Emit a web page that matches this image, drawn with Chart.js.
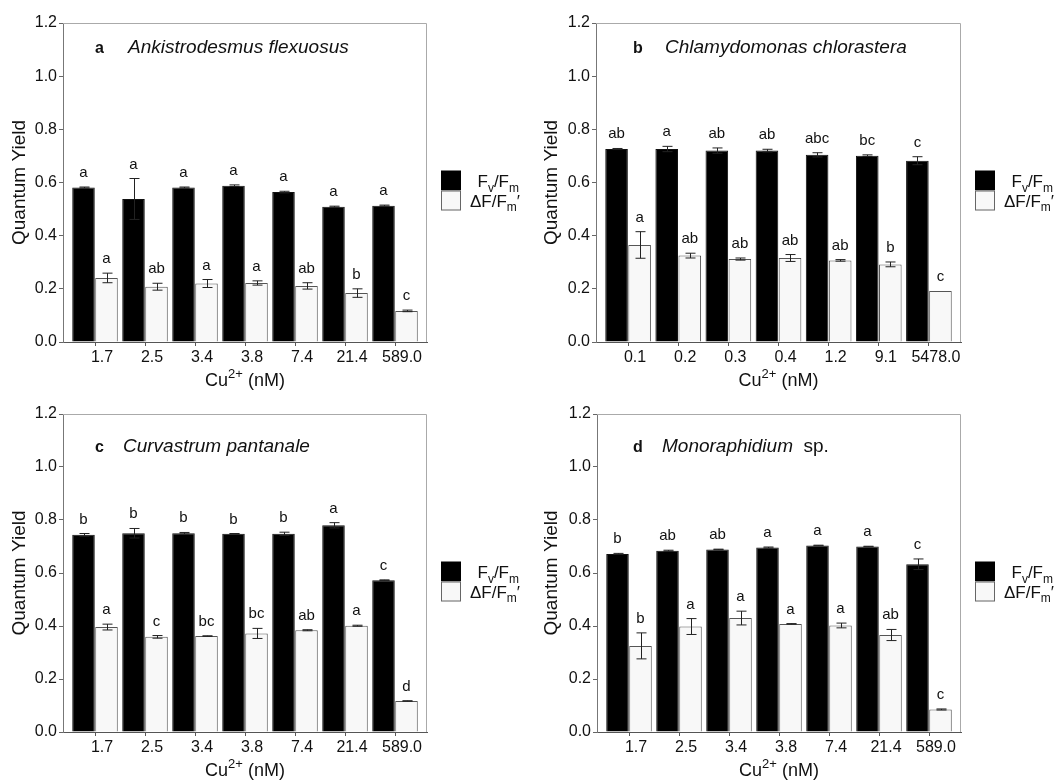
<!DOCTYPE html>
<html>
<head>
<meta charset="utf-8">
<title>Quantum yield under Cu2+ exposure</title>
<script src="https://cdn.jsdelivr.net/npm/chart.js@4.4.1/dist/chart.umd.min.js"></script>
<style>
  body { margin: 0; background: #fff; }
  #wrap { position: relative; width: 1056px; height: 782px; }
  canvas { position: absolute; }
</style>
</head>
<body>
<div id="wrap">
  <canvas id="chartA" width="528" height="391" style="left:0;top:0"></canvas>
  <canvas id="chartB" width="528" height="391" style="left:528px;top:0"></canvas>
  <canvas id="chartC" width="528" height="391" style="left:0;top:391px"></canvas>
  <canvas id="chartD" width="528" height="391" style="left:528px;top:391px"></canvas>
</div>
<script>
// Cu2+ concentrations (nM)
const cuLevels = ['1.7', '2.5', '3.4', '3.8', '7.4', '21.4', '589.0'];
const cuLevelsB = ['0.1', '0.2', '0.3', '0.4', '1.2', '9.1', '5478.0'];
const yTicks = [0, 0.2, 0.4, 0.6, 0.8, 1.0, 1.2];

// a - Ankistrodesmus flexuosus
const fvA = [0.581, 0.538, 0.581, 0.588, 0.564, 0.509, 0.513];
const fvErrA = [0.002, 0.077, 0.002, 0.003, 0.003, 0.002, 0.002];
const fvSigA = ['a', 'a', 'a', 'a', 'a', 'a', 'a'];
const dfA = [0.241, 0.208, 0.220, 0.222, 0.211, 0.184, 0.117];
const dfErrA = [0.018, 0.013, 0.015, 0.008, 0.012, 0.016, 0.003];
const dfSigA = ['a', 'ab', 'a', 'a', 'ab', 'b', 'c'];

// b - Chlamydomonas chlorastera
const fvB = [0.726, 0.726, 0.720, 0.720, 0.704, 0.701, 0.682];
const fvErrB = [0.002, 0.010, 0.010, 0.005, 0.008, 0.003, 0.015];
const fvSigB = ['ab', 'a', 'ab', 'ab', 'abc', 'bc', 'c'];
const dfB = [0.365, 0.325, 0.312, 0.316, 0.307, 0.292, 0.192];
const dfErrB = [0.050, 0.009, 0.004, 0.013, 0.003, 0.009, 0];
const dfSigB = ['a', 'ab', 'ab', 'ab', 'ab', 'b', 'c'];

// c - Curvastrum pantanale
const fvC = [0.744, 0.750, 0.750, 0.748, 0.748, 0.780, 0.573];
const fvErrC = [0.005, 0.018, 0.003, 0.001, 0.006, 0.010, 0.001];
const fvSigC = ['b', 'b', 'b', 'b', 'b', 'a', 'c'];
const dfC = [0.396, 0.359, 0.362, 0.372, 0.384, 0.401, 0.117];
const dfErrC = [0.011, 0.005, 0.001, 0.019, 0.002, 0.002, 0.001];
const dfSigC = ['a', 'c', 'bc', 'bc', 'ab', 'a', 'd'];

// d - Monoraphidium sp.
const fvD = [0.672, 0.684, 0.689, 0.696, 0.704, 0.700, 0.633];
const fvErrD = [0.002, 0.002, 0.001, 0.002, 0.001, 0.001, 0.020];
const fvSigD = ['b', 'ab', 'ab', 'a', 'a', 'a', 'c'];
const dfD = [0.325, 0.398, 0.430, 0.408, 0.402, 0.366, 0.085];
const dfErrD = [0.049, 0.030, 0.026, 0.001, 0.009, 0.021, 0.002];
const dfSigD = ['b', 'a', 'a', 'a', 'a', 'ab', 'c'];

const FONT = "'Liberation Sans', Arial, sans-serif";
Chart.defaults.font.family = FONT;
Chart.defaults.color = '#111';

const CANVAS_H = 391, CANVAS_W = 528;

// text with sub/superscript pieces
function drawRich(ctx, parts, x, y, size, align) {
  const small = Math.round(size * 0.7);
  const fontOf = p => `${p.style || ''} ${(p.sub || p.sup) ? small : size}px ${FONT}`;
  let w = 0;
  parts.forEach(p => { ctx.font = fontOf(p); w += ctx.measureText(p.t).width; });
  let cx = align === 'right' ? x - w : align === 'center' ? x - w / 2 : x;
  ctx.textAlign = 'left';
  ctx.textBaseline = 'alphabetic';
  parts.forEach(p => {
    ctx.font = fontOf(p);
    const dy = p.sub ? size * 0.28 : p.sup ? -size * 0.42 : 0;
    ctx.fillText(p.t, cx, y + dy);
    cx += ctx.measureText(p.t).width;
  });
}

function decor(p) {
  return {
    id: 'decor',
    beforeDatasetsDraw(chart) {
      const { ctx, chartArea: a } = chart;
      ctx.save();
      ctx.strokeStyle = '#aaa';
      ctx.lineWidth = 1;
      ctx.beginPath();
      ctx.moveTo(a.left, a.top + 0.5);
      ctx.lineTo(a.right - 0.5, a.top + 0.5);
      ctx.lineTo(a.right - 0.5, a.bottom);
      ctx.stroke();
      ctx.restore();
    },
    afterDatasetsDraw(chart) {
      const { ctx } = chart;
      const ys = chart.scales.y;
      ctx.save();
      chart.data.datasets.forEach((ds, i) => {
        const meta = chart.getDatasetMeta(i);
        meta.data.forEach((bar, j) => {
          const v = ds.data[j].y, e = ds.err[j];
          const x = Math.round(bar.x) + 0.5;
          const yTop = ys.getPixelForValue(v + e);
          if (e > 0) {
            const yBot = ys.getPixelForValue(v - e);
            ctx.strokeStyle = '#222';
            ctx.lineWidth = 1;
            ctx.beginPath();
            ctx.moveTo(x, yTop); ctx.lineTo(x, yBot);
            ctx.moveTo(x - 5, yTop); ctx.lineTo(x + 5, yTop);
            ctx.moveTo(x - 5, yBot); ctx.lineTo(x + 5, yBot);
            ctx.stroke();
          }
          ctx.fillStyle = '#111';
          ctx.font = `15px ${FONT}`;
          ctx.textAlign = 'center';
          ctx.textBaseline = 'alphabetic';
          ctx.fillText(ds.sig[j], bar.x, yTop - 10);
        });
      });
      ctx.restore();
    },
    afterDraw(chart) {
      const { ctx, chartArea: a } = chart;
      ctx.save();
      ctx.fillStyle = '#111';
      // panel tag and species name
      ctx.font = `bold 16px ${FONT}`;
      ctx.textAlign = 'left';
      ctx.textBaseline = 'alphabetic';
      ctx.fillText(p.tag, a.left + p.tagX, a.top + p.titleY);
      drawRich(ctx, p.name, a.left + p.nameX, a.top + p.titleY, 19, 'left');

      // x axis title
      drawRich(ctx, [{ t: 'Cu' }, { t: '2+', sup: true }, { t: ' (nM)' }],
        (a.left + a.right) / 2, a.bottom + 44, 18, 'center');

      // legend
      const lx = a.right + 14, ly = a.top + 147.5;
      ctx.fillStyle = '#000';
      ctx.fillRect(lx, ly, 20, 20);
      ctx.fillStyle = '#f8f8f8';
      ctx.fillRect(lx, ly + 20, 20, 20);
      ctx.strokeStyle = '#666';
      ctx.lineWidth = 1;
      ctx.strokeRect(lx + 0.5, ly + 20.5, 19, 19);
      ctx.fillStyle = '#111';
      drawRich(ctx, [{ t: 'F' }, { t: 'v', sub: true }, { t: '/F' }, { t: 'm', sub: true }],
        a.right + 92, a.top + 164, 17, 'right');
      drawRich(ctx, [{ t: 'ΔF/F' }, { t: 'm', sub: true }, { t: '′' }],
        a.right + 93, a.top + 183.5, 17, 'right');
      ctx.restore();
    }
  };
}

const panels = [
  { id: 'chartA', tag: 'a', name: [{ t: 'Ankistrodesmus flexuosus', style: 'italic' }],
    labels: cuLevels, fv: fvA, fvErr: fvErrA, fvSig: fvSigA, df: dfA, dfErr: dfErrA, dfSig: dfSigA,
    box: { left: 63, right: 427, top: 23, bottom: 342 }, tagX: 32, nameX: 65, titleY: 30, yTitleX: 19.5 },
  { id: 'chartB', tag: 'b', name: [{ t: 'Chlamydomonas chlorastera', style: 'italic' }],
    labels: cuLevelsB, fv: fvB, fvErr: fvErrB, fvSig: fvSigB, df: dfB, dfErr: dfErrB, dfSig: dfSigB,
    box: { left: 68, right: 433, top: 23, bottom: 342 }, tagX: 37, nameX: 69, titleY: 30, yTitleX: 23.8 },
  { id: 'chartC', tag: 'c', name: [{ t: 'Curvastrum pantanale', style: 'italic' }],
    labels: cuLevels, fv: fvC, fvErr: fvErrC, fvSig: fvSigC, df: dfC, dfErr: dfErrC, dfSig: dfSigC,
    box: { left: 63, right: 427, top: 23, bottom: 341 }, tagX: 32, nameX: 60, titleY: 38, yTitleX: 19.7 },
  { id: 'chartD', tag: 'd', name: [{ t: 'Monoraphidium', style: 'italic' }, { t: '  sp.' }],
    labels: cuLevels, fv: fvD, fvErr: fvErrD, fvSig: fvSigD, df: dfD, dfErr: dfErrD, dfSig: dfSigD,
    box: { left: 69, right: 433, top: 23, bottom: 341 }, tagX: 36, nameX: 65, titleY: 38, yTitleX: 23.8 }
];

function makeChart(p) {
  const pts = arr => arr.map((v, i) => ({ x: i, y: v }));
  return new Chart(document.getElementById(p.id), {
    type: 'bar',
    data: {
      datasets: [
        { label: 'Fv/Fm', data: pts(p.fv), err: p.fvErr, sig: p.fvSig,
          backgroundColor: '#000', borderColor: '#111', borderWidth: 1 },
        { label: 'ΔF/Fm′', data: pts(p.df), err: p.dfErr, sig: p.dfSig,
          backgroundColor: '#f8f8f8', borderColor: '#555', borderWidth: 1 }
      ]
    },
    options: {
      responsive: false,
      animation: false,
      layout: { padding: { left: 0, top: p.box.top, right: CANVAS_W - p.box.right, bottom: 0 } },
      datasets: { bar: { barPercentage: 0.98, categoryPercentage: 0.92 } },
      plugins: { legend: { display: false }, tooltip: { enabled: false } },
      scales: {
        x: {
          type: 'linear',
          offset: false,
          min: -0.64,
          max: 6.64,
          afterBuildTicks: s => { s.ticks = p.labels.map((_, i) => ({ value: i })); },
          afterFit: s => { s.height = CANVAS_H - p.box.bottom; },
          ticks: { callback: (v, i) => p.labels[i], labelOffset: 7, padding: 2,
                   autoSkip: false, maxRotation: 0, font: { size: 16 } },
          grid: { offset: false, drawOnChartArea: false, tickLength: 4, color: '#555' },
          border: { color: '#555' }
        },
        y: {
          min: 0,
          max: 1.2,
          afterBuildTicks: s => { s.ticks = yTicks.map(v => ({ value: v })); },
          afterFit: s => { s.width = p.box.left; },
          ticks: { callback: v => v.toFixed(1), padding: 2, font: { size: 16 } },
          grid: { drawOnChartArea: false, tickLength: 4, color: '#666' },
          border: { color: '#777' },
          title: { display: true, text: 'Quantum Yield', font: { size: 19 },
                   padding: { top: p.yTitleX - 11.4, bottom: 0 } }
        }
      }
    },
    plugins: [decor(p)]
  });
}

panels.forEach(makeChart);
</script>
</body>
</html>
